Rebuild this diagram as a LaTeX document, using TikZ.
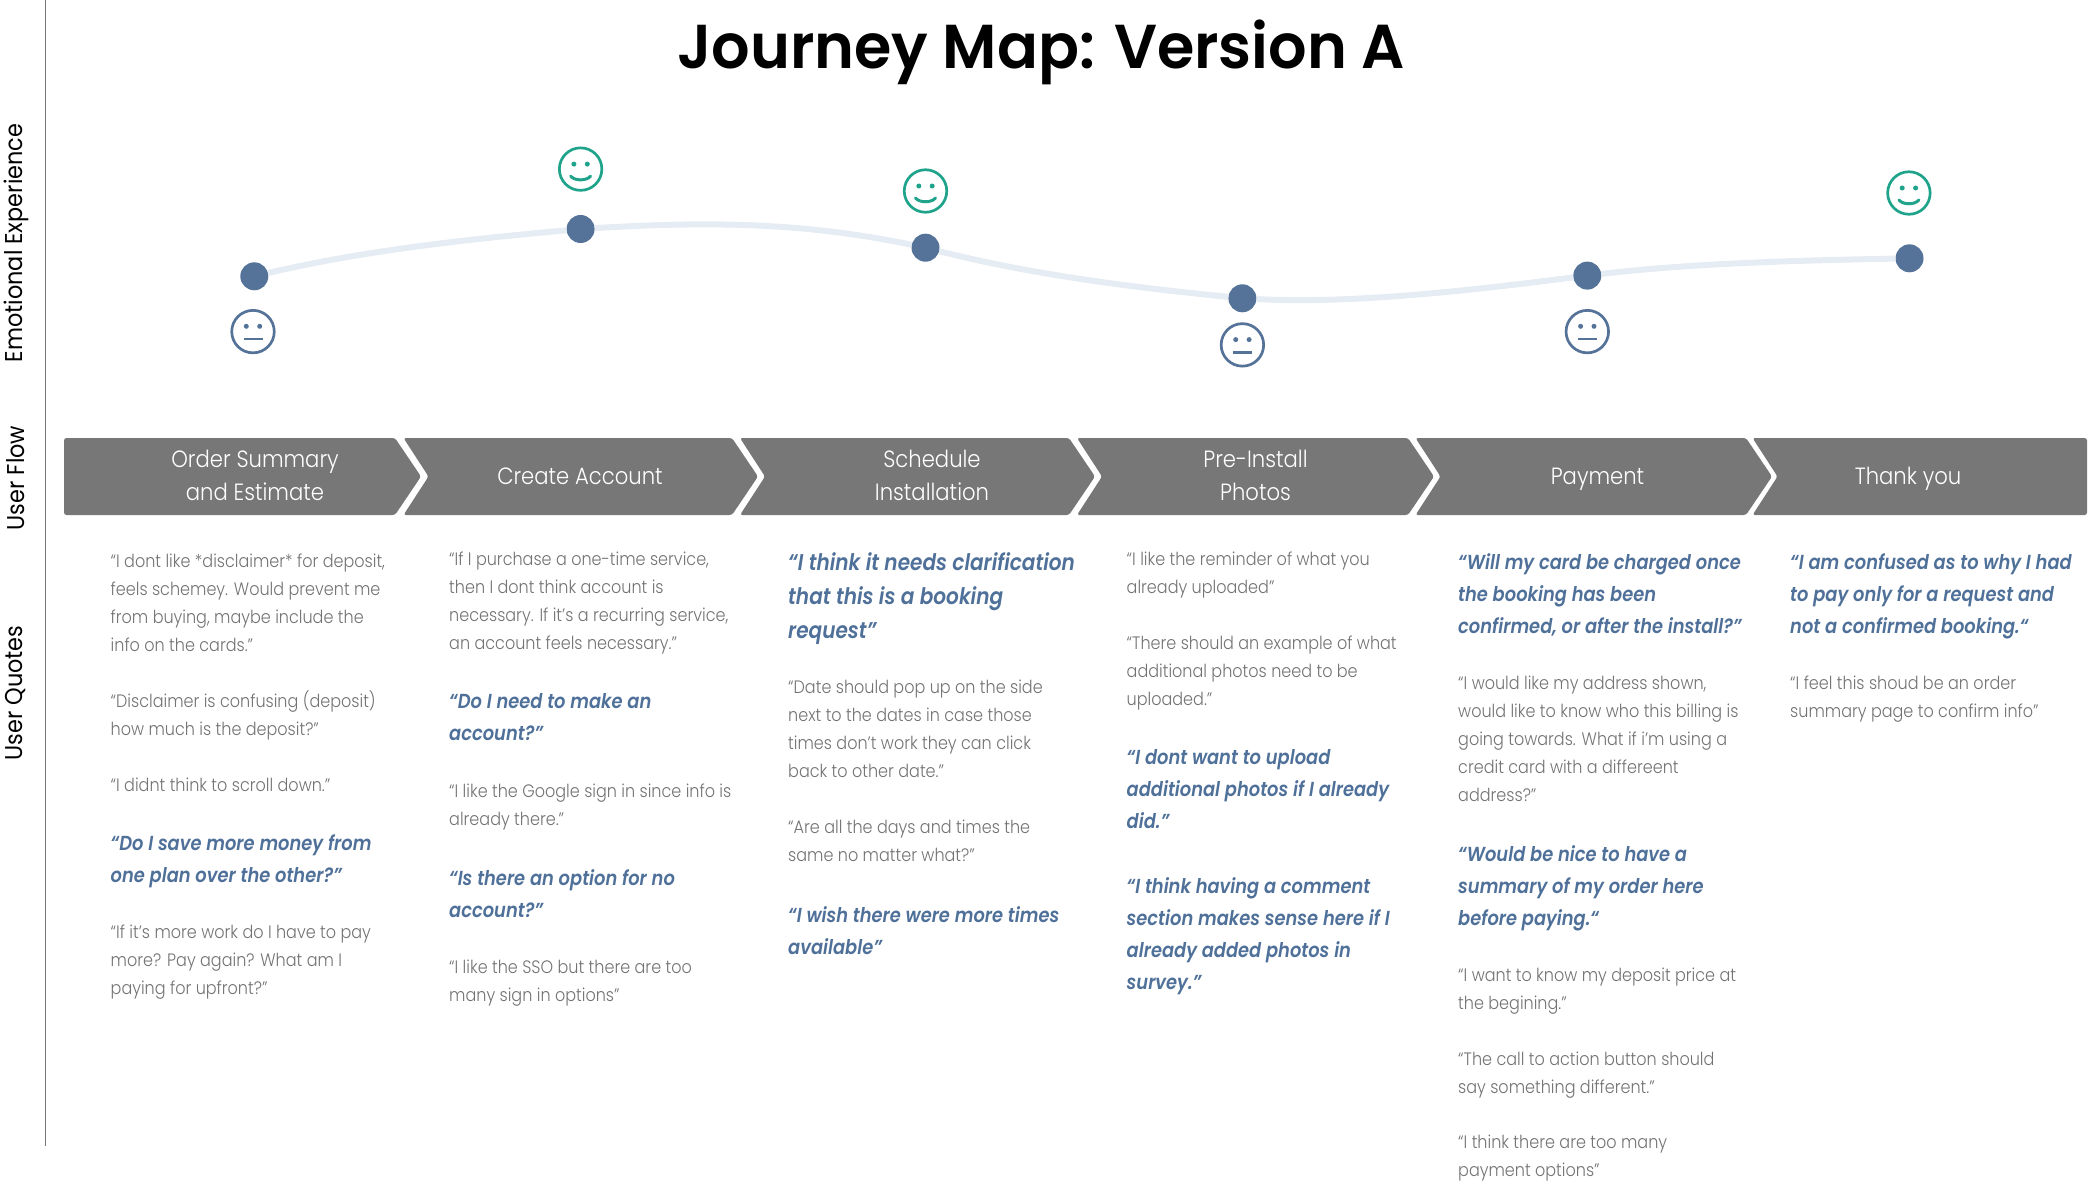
\documentclass[tikz,border=0pt]{standalone}
\usepackage{fontspec}
\setmainfont{Poppins}
\newfontfamily\titlefont{Poppins SemiBold}[FakeStretch=0.975]
\newfontfamily\quotefont{Poppins Light}[FakeStretch=0.89]
\newfontfamily\bandfont{Poppins Light}[FakeStretch=0.9]
\newfontfamily\sidefont{Poppins}[FakeStretch=0.92]
\newfontfamily\boldquotefont{Poppins SemiBold Italic}[FakeStretch=0.88]
\definecolor{flowgray}{HTML}{777777}
\definecolor{quotegray}{HTML}{737373}
\definecolor{moodblue}{HTML}{557399}
\definecolor{quoteblue}{HTML}{4F7099}
\definecolor{moodgreen}{HTML}{1FA38A}
\definecolor{curveblue}{HTML}{E5ECF3}
\begin{document}
\begin{tikzpicture}[x=1pt,y=-1pt,
graytext/.style={anchor=north west,inner sep=0,yshift=7.3pt,align=left,text=quotegray,
  font=\fontsize{18}{28}\selectfont\quotefont,execute at begin node=\strut},
bluetext/.style={anchor=north west,inner sep=0,yshift=8.4pt,align=left,text=quoteblue,
  font=\fontsize{20.3}{32}\selectfont\boldquotefont,execute at begin node=\strut},
bigbluetext/.style={bluetext,yshift=1.3pt,font=\fontsize{22.8}{34}\selectfont\boldquotefont},
sidelabel/.style={rotate=90,inner sep=0,font=\fontsize{24.3}{27}\selectfont\sidefont},
flowlabel/.style={inner sep=0,align=center,text=white,font=\fontsize{23.5}{33.5}\selectfont\bandfont,
  execute at begin node=\strut,execute at end node=\strut},
mooddot/.style={circle,fill=moodblue,inner sep=0,minimum size=28pt},
neutralface/.style={draw=moodblue,line width=2.7pt,circle,inner sep=0,minimum size=42.5pt,path picture={
\fill[moodblue] ([shift={(-6.7pt,5.3pt)}]path picture bounding box.center) circle(2.5pt)
([shift={(6.7pt,5.3pt)}]path picture bounding box.center) circle(2.5pt);
\draw[moodblue,line width=2.7pt] ([shift={(-9.5pt,-7.3pt)}]path picture bounding box.center) -- ([shift={(9.5pt,-7.3pt)}]path picture bounding box.center);
}},
happyface/.style={draw=moodgreen,line width=2.7pt,circle,inner sep=0,minimum size=42.5pt,path picture={
\fill[moodgreen] ([shift={(-6.7pt,5pt)}]path picture bounding box.center) circle(2.5pt)
([shift={(6.7pt,5pt)}]path picture bounding box.center) circle(2.5pt);
\draw[moodgreen,line width=3pt,line cap=round] ([shift={(-10pt,-7pt)}]path picture bounding box.center) .. controls +(4pt,-5pt) and +(-4pt,-5pt) .. ([shift={(10pt,-7pt)}]path picture bounding box.center);
}},
curve/.style={curveblue,line width=6pt}]
\useasboundingbox (0,0) rectangle (2088,1186);

\draw[flowgray,line width=1pt] (45,0) coordinate (axistop) -- (45,1146) coordinate (axisbottom);

\node[inner sep=0,font=\fontsize{62}{70}\selectfont\titlefont] (title) at (1041,52) {Journey Map: Version A};

\node[sidelabel] (emotion) at (16,243) {Emotional Experience};
\node[sidelabel] (userflow) at (16,478) {User Flow};
\node[sidelabel] (userquotes) at (16,693) {User Quotes};

% mood curve
\node[mooddot] (dot1) at (254.3,276.3) {};
\node[mooddot] (dot2) at (580.6,229) {};
\node[mooddot] (dot3) at (925.5,247.7) {};
\node[mooddot] (dot4) at (1242.4,298.3) {};
\node[mooddot] (dot5) at (1587.3,275.6) {};
\node[mooddot] (dot6) at (1909.5,258.3) {};
\draw[curve] (dot1) .. controls +(110,-26) and +(-110,10) .. (dot2);
\draw[curve] (dot2) .. controls +(130,-8) and +(-120,-25) .. (dot3);
\draw[curve] (dot3) .. controls +(110,28) and +(-100,-10) .. (dot4);
\draw[curve] (dot4) .. controls +(110,6) and +(-110,14) .. (dot5);
\draw[curve] (dot5) .. controls +(110,-13) and +(-100,2) .. (dot6);

\node[neutralface] (face1) at (253,331.6) {};
\node[happyface] (face2) at (580.6,169.1) {};
\node[happyface] (face3) at (925.5,191) {};
\node[neutralface] (face4) at (1242.4,344.9) {};
\node[neutralface] (face5) at (1587.3,331.6) {};
\node[happyface] (face6) at (1908.9,193) {};

% flow band
\foreach \i/\a/\b/\n/\t/\cx/\cy/\lbl in {
1/64/395/0/26/255/480.5/{Order Summary\\and Estimate},
2/403.5/732/25/26/580/477.5/{Create Account},
3/740/1069/25/26/932/480.5/{Schedule\\Installation},
4/1077/1408/25/26/1255.5/480.5/{Pre-Install\\Photos},
5/1415.5/1746/25/26/1597.5/477.5/{Payment},
6/1752.5/2087/25/0/1908/477.5/{Thank you}}{
\fill[flowgray,rounded corners=2.5pt] (\a,438) -- (\b,438) -- (\b+\t,476.5) -- (\b,515) -- (\a,515) -- (\a+\n,476.5) -- cycle;
\node[flowlabel] (flow\i) at (\cx,\cy) {\lbl};
}

% first column
\node[graytext] (q11) at (110.5,560.6) {“I dont like *disclaimer* for deposit,\\feels schemey. Would prevent me\\from buying, maybe include the\\info on the cards.”};
\node[graytext] (q12) at (110.5,697.4) {“Disclaimer is confusing (deposit)\\how much is the deposit?”};
\node[graytext] (q13) at (110.5,779.3) {“I didnt think to scroll down.”};
\node[bluetext] (q14) at (110.5,842.9) {“Do I save more money from\\one plan over the other?”};
\node[graytext] (q15) at (110.5,932.1) {“If it’s more work do I have to pay\\more? Pay again? What am I\\paying for upfront?”};

% second column
\node[graytext] (q21) at (449,559.3) {“If I purchase a one-time service,\\then I dont think account is\\necessary. If it’s a recurring service,\\an account feels necessary.”};
\node[bluetext] (q22) at (449,701.8) {“Do I need to make an\\account?”};
\node[graytext] (q23) at (449,791) {“I like the Google sign in since info is\\already there.”};
\node[bluetext] (q24) at (449,877.5) {“Is there an option for no\\account?”};
\node[graytext] (q25) at (449,966.7) {“I like the SSO but there are too\\many sign in options”};

% third column
\node[bigbluetext] (q31) at (788,561.9) {“I think it needs clarification\\that this is a booking\\request”};
\node[graytext] (q32) at (788,687.1) {“Date should pop up on the side\\next to the dates in case those\\times don’t work they can click\\back to other date.”};
\node[graytext] (q33) at (788,826.9) {“Are all the days and times the\\same no matter what?”};
\node[bluetext] (q34) at (788,914.8) {“I wish there were more times\\available”};

% fourth column
\node[graytext] (q41) at (1126.5,559.3) {“I like the reminder of what you\\already uploaded”};
\node[graytext] (q42) at (1126.5,643.2) {“There should an example of what\\additional photos need to be\\uploaded.”};
\node[bluetext] (q43) at (1126.5,757.7) {“I dont want to upload\\additional photos if I already\\did.”};
\node[bluetext] (q44) at (1126.5,885.5) {“I think having a comment\\section makes sense here if I\\already added photos in\\survey.”};

% fifth column
\node[bluetext] (q51) at (1458,561.9) {“Will my card be charged once\\the booking has been\\confirmed, or after the install?”};
\node[graytext] (q52) at (1458,683.1) {“I would like my address shown,\\would like to know who this billing is\\going towards. What if i’m using a\\credit card with a differeent\\address?”};
\node[bluetext] (q53) at (1458,853.6) {“Would be nice to have a\\summary of my order here\\before paying.“};
\node[graytext] (q54) at (1458,974.7) {“I want to know my deposit price at\\the begining.”};
\node[graytext] (q55) at (1458,1058.6) {“The call to action button should\\say something different.”};
\node[graytext] (q56) at (1458,1142.5) {“I think there are too many\\payment options”};

% sixth column
\node[bluetext] (q61) at (1790,561.9) {“I am confused as to why I had\\to pay only for a request and\\not a confirmed booking.“};
\node[graytext] (q62) at (1790,683.1) {“I feel this shoud be an order\\summary page to confirm info”};
\end{tikzpicture}
\end{document}
